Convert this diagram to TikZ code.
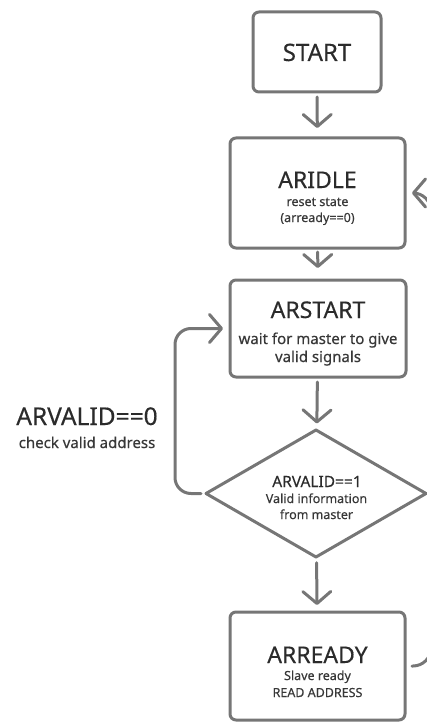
\documentclass[tikz,border=0pt]{standalone}
\usepackage{fontspec}
\setmainfont{Noto Sans}[FakeBold=0.35]
\usetikzlibrary{arrows.meta,shapes.geometric}
\definecolor{edge}{HTML}{767676}
\definecolor{ink}{HTML}{2B2B2B}
\definecolor{subink}{HTML}{383838}
\tikzset{
  box/.style={draw=edge, line width=3pt, rounded corners=6pt, fill=white,
    inner sep=0pt, outer sep=0pt},
  decision/.style={draw=edge, line width=3pt, shape=diamond, inner sep=0pt,
    outer sep=0pt, line join=round},
  flow/.style={draw=edge, line width=3pt, line cap=round,
    -{Straight Barb[length=12pt,width=28pt,round]}},
  title/.style={anchor=base, inner sep=0pt, text=ink,
    font=\fontsize{23}{26}\selectfont},
  note/.style={anchor=base, inner sep=0pt, text=subink,
    font=\fontsize{12.5}{14}\selectfont},
  midnote/.style={anchor=base, inner sep=0pt, text=subink,
    font=\fontsize{15}{17}\selectfont},
}
\begin{document}
\begin{tikzpicture}[x=1pt,y=-1pt]
  \useasboundingbox (0,0) rectangle (427,722);

  % state boxes
  \node[box, minimum width=128pt, minimum height=80pt]  (start)   at (317,52)    {};
  \node[box, minimum width=175pt, minimum height=110pt] (aridle)  at (317.5,193) {};
  \node[box, minimum width=176pt, minimum height=97pt]  (arstart) at (318,328.5) {};
  \node[decision, minimum width=220pt, minimum height=127pt] (valid) at (316,493.5) {};
  \node[box, minimum width=175pt, minimum height=108pt] (arready) at (317.5,666) {};

  % texts
  \node[title, font=\fontsize{24}{26}\selectfont] (tstart) at (317,61) {START};

  \node[title] (taridle) at (317.5,188) {ARIDLE};
  \node[note] (naridle1) at (317.5,206) {reset state};
  \node[note] (naridle2) at (317.5,222) {(arready==0)};

  \node[title] (tarstart) at (318,318) {ARSTART};
  \node[midnote] (narstart1) at (318,344) {wait for master to give};
  \node[midnote] (narstart2) at (318,362) {valid signals};

  \node[title, font=\fontsize{15.5}{18}\selectfont] (tvalid) at (317,487) {ARVALID==1};
  \node[note] (nvalid1) at (316.5,503) {Valid information};
  \node[note] (nvalid2) at (316.5,519) {from master};

  \node[title] (tarready) at (317.5,663) {ARREADY};
  \node[note] (narready1) at (317.5,680) {Slave ready};
  \node[note] (narready2) at (317.5,697) {READ ADDRESS};

  \node[title, font=\fontsize{24.5}{28}\selectfont] (tloop) at (87,425) {ARVALID==0};
  \node[midnote] (nloop) at (87,448) {check valid address};

  % connectors
  \coordinate (loopx) at (175,0);
  \coordinate (backx) at (431,0);

  \draw[flow, shorten <=5pt, shorten >=10pt] (start) -- (aridle);
  \draw[flow, shorten <=4pt, shorten >=12pt] (aridle) -- (arstart);
  \draw[flow, shorten <=5pt, shorten >=7pt] (arstart) -- (valid);
  \draw[flow, shorten <=6pt, shorten >=7pt] (valid) -- (arready);
  \draw[flow, rounded corners=16pt, shorten <=5pt, shorten >=7pt]
    (valid.west) -- (valid.west -| loopx) |- (arstart.west);
  \draw[flow, rounded corners=18pt, shorten <=7pt, shorten >=7pt]
    (arready.east) -- (arready.east -| backx) |- (aridle.east);
\end{tikzpicture}
\end{document}
